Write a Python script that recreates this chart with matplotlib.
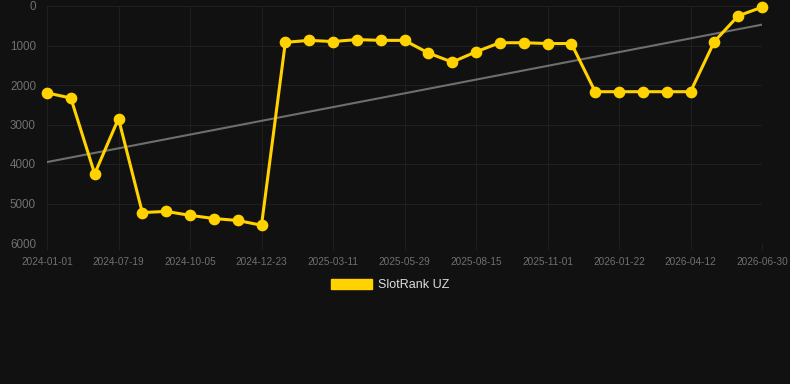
import numpy as np
import matplotlib.pyplot as plt
import matplotlib as mpl
from matplotlib.patches import Patch

mpl.rc('font', family=['Liberation Sans', 'DejaVu Sans'])

# rank values per observation (lower is better, axis is inverted)
ranks = [2200, 2330, 4250, 2850, 5230, 5200, 5300, 5380, 5430, 5550,
         920, 870, 900, 850, 870, 870, 1190, 1420, 1160, 930,
         930, 950, 950, 2170, 2170, 2170, 2170, 2170, 900, 250, 30]
tick_labels = ['2024-01-01', '2024-07-19', '2024-10-05', '2024-12-23',
               '2025-03-11', '2025-05-29', '2025-08-15', '2025-11-01',
               '2026-01-22', '2026-04-12', '2026-06-30']
series_name = 'SlotRank UZ'

bg = '#111111'
gold = '#FFD200'
txt = '#707070'
gridc = '#1f1f1f'

fig = plt.figure(figsize=(7.9, 3.84), dpi=100, facecolor=bg)
ax = fig.add_axes([47 / 790, 1 - 243 / 384, 715 / 790, 237 / 384], facecolor=bg)

x = np.arange(len(ranks))
y = np.array(ranks, dtype=float)

# trend line
k, b = np.polyfit(x, y, 1)
ax.plot(x, k * x + b, color='#6e6e6e', lw=1.5, zorder=2)

ax.plot(x, y, color=gold, lw=2.2, marker='o', ms=7.4, zorder=3, clip_on=False)

ax.set_xlim(0, len(ranks) - 1)
ax.set_ylim(6000, 0)
ax.set_yticks(range(0, 6001, 1000))
ax.set_xticks(x[::3])
ax.set_xticklabels(tick_labels)

ax.grid(True, color=gridc, lw=0.8)
ax.set_axisbelow(True)
for s in ax.spines.values():
    s.set_visible(False)
ax.tick_params(axis='x', length=5, width=0.8, color=gridc, pad=5, labelsize=7.2, labelcolor=txt)
ax.tick_params(axis='y', length=0, pad=8, labelsize=8.4, labelcolor=txt)

handle = Patch(facecolor=gold, edgecolor=gold)
fig.legend([handle], [series_name], loc='center', bbox_to_anchor=(390 / 790, 1 - 285 / 384),
           frameon=False, fontsize=9, labelcolor='#dddddd', handlelength=3.3,
           handleheight=0.9, handletextpad=0.5)

plt.savefig('out.png', facecolor=bg)
